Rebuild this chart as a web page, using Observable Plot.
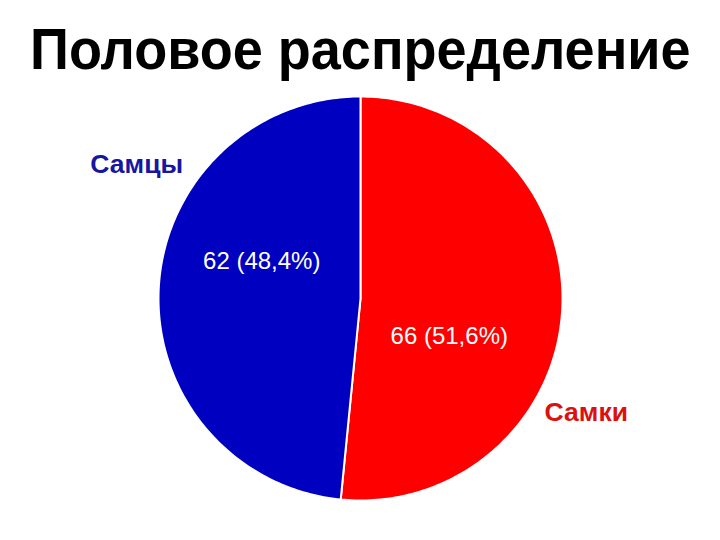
<!DOCTYPE html>
<html>
<head>
<meta charset="utf-8">
<script src="https://cdn.jsdelivr.net/npm/d3@7"></script>
<script src="https://cdn.jsdelivr.net/npm/@observablehq/plot@0.6"></script>
<style>
  html, body { margin: 0; padding: 0; background: #fff; }
  #title { height: 90px; width: 720px; overflow: visible; text-align: center; font-family: "Liberation Sans", Arial, sans-serif; font-weight: bold; font-size: 57px; line-height: 98px; color: #000; white-space: nowrap; }
  #title span { display: inline-block; transform: scaleX(0.948); transform-origin: center; }
</style>
</head>
<body>
<div id="title"><span>Половое распределение</span></div>
<div id="chart"></div>
<script>
const title = "Половое распределение";
const categories = ["Самки", "Самцы"];
const values = [66, 62];
const percentLabels = ["51,6%", "48,4%"];
const sliceColors = ["#ff0000", "#0000c0"];
const nameColors = ["#dd1010", "#1616a0"];

const W = 720, H = 450, R = 202, CX = 360, CY = 208;
const total = d3.sum(values);

// slices (clockwise from 12 o'clock)
let start = 0;
const slices = categories.map((c, i) => {
  const a0 = start, a1 = start + 2 * Math.PI * values[i] / total;
  start = a1;
  return {category: c, value: values[i], a0, a1, i};
});

const pts = [];
for (const s of slices) {
  pts.push({category: s.category, x: 0, y: 0});
  const n = 180;
  for (let k = 0; k <= n; k++) {
    const a = s.a0 + (s.a1 - s.a0) * k / n;
    pts.push({category: s.category, x: Math.sin(a), y: Math.cos(a)});
  }
}

const valueLabels = slices.map(s => {
  const a = (s.a0 + s.a1) / 2 + 19 * Math.PI / 180;
  return {x: 0.5 * Math.sin(a), y: 0.5 * Math.cos(a), text: `${s.value} (${percentLabels[s.i]})`};
});
const nameLabels = slices.map(s => {
  const a = (s.a0 + s.a1) / 2 + 26 * Math.PI / 180;
  return {x: 1.27 * Math.sin(a), y: 1.27 * Math.cos(a), text: s.category, color: nameColors[s.i]};
});

const chart = Plot.plot({
  width: W, height: H,
  margin: 0,
  x: {domain: [-CX / R, (W - CX) / R], range: [0, W], axis: null},
  y: {domain: [-(H - CY) / R, CY / R], range: [H, 0], axis: null},
  color: {domain: categories, range: sliceColors},
  style: {fontFamily: "'Liberation Sans', Arial, sans-serif", background: "white"},
  marks: [
    Plot.line(pts, {x: "x", y: "y", z: "category", fill: "category", stroke: "white", strokeWidth: 2, curve: "linear-closed"}),
    Plot.text(valueLabels, {x: "x", y: "y", text: "text", fill: "white", fontSize: 24, dx: -5}),
    Plot.text(nameLabels, {x: "x", y: "y", text: "text", fill: "color", fontSize: 26.5, fontWeight: "bold", dy: -10, dx: 1})
  ]
});
document.getElementById("chart").appendChild(chart);
</script>
</body>
</html>
